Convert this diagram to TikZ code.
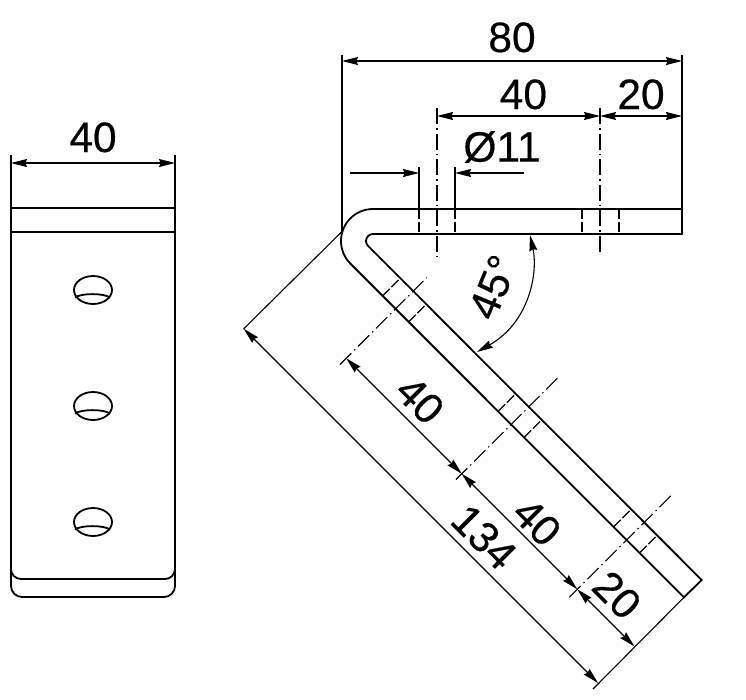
\documentclass[tikz,border=0pt]{standalone}
\usepackage{fontspec}
\setmainfont{Liberation Sans}
\newfontfamily\dimfont{Liberation Sans}[FakeBold=0.4]
\usetikzlibrary{arrows.meta}
\tikzset{
  outline/.style = {line width = 1.8pt},
  thin line/.style = {line width = 1.1pt},
  dim line/.style = {thin line, {Stealth[length = 16pt, width = 8pt, inset = 1.5pt]}-{Stealth[length = 16pt, width = 8pt, inset = 1.5pt]}},
  lead line/.style = {thin line, -{Stealth[length = 16pt, width = 8pt, inset = 1.5pt]}},
  centre line/.style = {thin line, dash pattern = on 16pt off 4pt on 1.5pt off 4pt},
  hidden line/.style = {line width = 1.3pt, dash pattern = on 10pt off 2.5pt},
  dim text/.style = {inner sep = 0pt, font = \dimfont\fontsize{42.5}{42.5}\selectfont}
}
\begin{document}
\begin{tikzpicture}[x = 1pt, y = -1pt]
\useasboundingbox (0,0) rectangle (746,699);
\draw [thin line] (11,155) -- (11,208);
\draw [thin line] (175,155) -- (175,208);
\draw [dim line] (11,163) -- node [dim text, above = 10pt] (widthlabel) {40} (175,163);
\draw [outline] (11,208) -- (175,208);
\draw [outline] (11,232) -- (175,232);
\draw [outline, rounded corners = 11pt] (11,208) -- (11,597) -- (175,597) -- (175,208);
\draw [outline, rounded corners = 10pt] (11,569) -- (11,579) -- (175,579) -- (175,569);
\draw [outline] (93,290) ellipse [x radius = 19, y radius = 14];
\draw [outline] (75,297.5) .. controls (81,293) and (104,293) .. (110,297.5);
\draw [outline] (93,406) ellipse [x radius = 19, y radius = 14];
\draw [outline] (75,413.5) .. controls (81,409) and (104,409) .. (110,413.5);
\draw [outline] (93,522) ellipse [x radius = 19, y radius = 14];
\draw [outline] (75,529.5) .. controls (81,525) and (104,525) .. (110,529.5);
\draw [outline] (682,209) -- (373,209) arc [start angle = -90, end angle = -225, radius = 32] -- (684,597.3) -- (701.7,580) -- (368.05,245.95) arc [start angle = -225, end angle = -90, radius = 7] -- (682,234) -- cycle;
\draw [thin line] (342,55) -- (342,231);
\draw [thin line] (682,55) -- (682,209);
\draw [dim line] (342,61) -- node [dim text, above = 8pt] (lengthlabel) {80} (682,61);
\draw [dim line] (437,116) -- node [pos = 0.53, dim text, above = 6pt] (pitchlabel) {40} (600,116);
\draw [dim line] (600,116) -- node [dim text, above = 6pt] (edgelabel) {20} (682,116);
\draw [centre line] (437,108) -- (437,256);
\draw [centre line] (600,108) -- (600,252);
\draw [thin line] (419,167) -- (419,209);
\draw [thin line] (455,167) -- (455,209);
\draw [hidden line] (419,209) -- (419,234);
\draw [hidden line] (455,209) -- (455,234);
\draw [hidden line] (582,209) -- (582,234);
\draw [hidden line] (619,209) -- (619,234);
\draw [lead line] (350,173) -- (419,173);
\draw [lead line] (524,173) -- (455,173);
\node (holelabel) [dim text] at (502,147) {Ø11};
\draw [dim line] (530,235) .. controls (538,272) and (530,322) .. (477,352);
\node (anglelabel) [dim text, rotate = 67.5] at (493,287) {45°};
\draw [centre line] (340,364.5) -- (426.7,277.7);
\draw [centre line] (456,479.5) -- (557.3,378.3);
\draw [centre line] (569.3,597.3) -- (672.7,494);
\draw [hidden line] (382.6,295.9) -- (400.1,278.4);
\draw [hidden line] (408.6,321.9) -- (426.1,304.4);
\draw [hidden line] (498.1,411.4) -- (515.6,393.9);
\draw [hidden line] (524.1,437.4) -- (541.6,419.9);
\draw [hidden line] (613.6,526.9) -- (631.1,509.4);
\draw [hidden line] (639.6,552.9) -- (657.1,535.4);
\draw [thin line] (342,231.5) -- (243.5,329);
\draw [thin line] (684,597.3) -- (593,689);
\draw [dim line] (346.25,358.25) -- (461.75,473.75);
\draw [dim line] (461.75,473.75) -- (577.25,589.25);
\draw [dim line] (577.25,589.25) -- (634.5,646.5);
\draw [dim line] (243.75,328.75) -- (598,683);
\node (firstlabel) [dim text, rotate = -45] at (420,400) {40};
\node (secondlabel) [dim text, rotate = -45] at (537,522) {40};
\node (endlabel) [dim text, rotate = -45] at (617,595) {20};
\node (totallabel) [dim text, rotate = -45] at (484,537) {134};
\end{tikzpicture}
\end{document}
